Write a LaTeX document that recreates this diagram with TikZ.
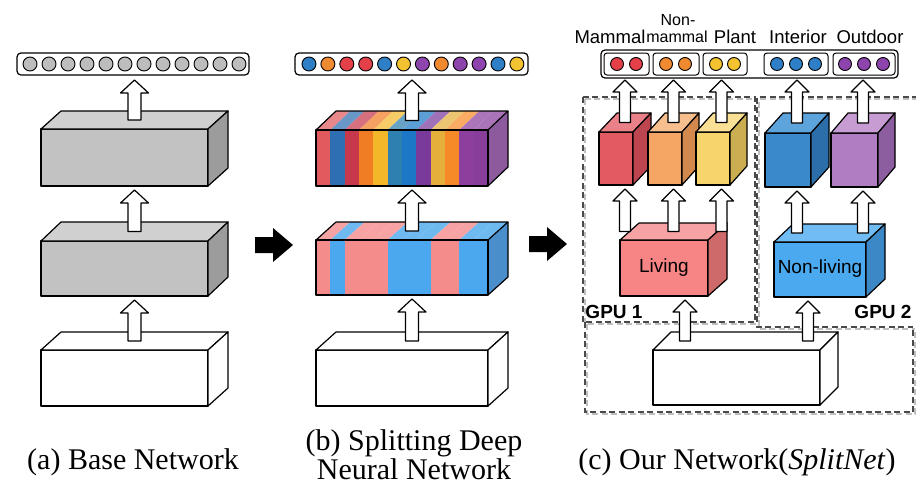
\documentclass[tikz,border=0pt]{standalone}
\usepackage{fontspec}
\setmainfont{Liberation Serif}
\newfontfamily\lsans{Liberation Sans}
\usetikzlibrary{calc}

% face colours of the blocks: F = front, T = top, S = side
\definecolor{grayF}{HTML}{C2C2C2}\definecolor{grayT}{HTML}{D0D0D0}\definecolor{grayS}{HTML}{9C9C9C}
\definecolor{whiteF}{HTML}{FFFFFF}\definecolor{whiteT}{HTML}{FFFFFF}\definecolor{whiteS}{HTML}{FFFFFF}
\definecolor{redF}{HTML}{E35B62}\definecolor{redT}{HTML}{EA8088}\definecolor{redS}{HTML}{BC4550}
\definecolor{orF}{HTML}{F5A664}\definecolor{orT}{HTML}{F8BF8E}\definecolor{orS}{HTML}{D3884D}
\definecolor{yeF}{HTML}{F8D46C}\definecolor{yeT}{HTML}{FAE094}\definecolor{yeS}{HTML}{CCAE52}
\definecolor{blF}{HTML}{3A8ACB}\definecolor{blT}{HTML}{5DA3DC}\definecolor{blS}{HTML}{2C6FA8}
\definecolor{puF}{HTML}{B07CC2}\definecolor{puT}{HTML}{C69CD3}\definecolor{puS}{HTML}{8C5E9F}
\definecolor{livF}{HTML}{F78585}\definecolor{livT}{HTML}{F8A3A3}\definecolor{livS}{HTML}{CF6A6A}
\definecolor{nlF}{HTML}{4BA9F0}\definecolor{nlT}{HTML}{72BCF4}\definecolor{nlS}{HTML}{3C87C6}
% output unit colours
\definecolor{cR}{HTML}{E3404A}\definecolor{cO}{HTML}{F08A30}\definecolor{cY}{HTML}{F2C230}
\definecolor{cB}{HTML}{2F7FC6}\definecolor{cP}{HTML}{8E44AD}\definecolor{cG}{HTML}{BDBDBD}
% stripes of the split layers
\definecolor{sRe}{HTML}{E05A5E}\definecolor{sDb}{HTML}{2E6EB2}\definecolor{sCr}{HTML}{C7384C}
\definecolor{sOr}{HTML}{F07C24}\definecolor{sYe}{HTML}{F4B729}\definecolor{sTe}{HTML}{2D80B0}
\definecolor{sBl}{HTML}{1C78C6}\definecolor{sPu}{HTML}{7A3A9C}\definecolor{sGo}{HTML}{E5AF3C}
\definecolor{sOt}{HTML}{F78A28}\definecolor{sPv}{HTML}{8D3F9E}\definecolor{sPw}{HTML}{8A3E9C}
\definecolor{sSide}{HTML}{8E5A9E}
\definecolor{pk}{HTML}{F58C8C}\definecolor{bu}{HTML}{4BA8EE}\definecolor{buSide}{HTML}{4A8FCC}
\definecolor{dashc}{HTML}{4A4A4A}

% cuboid: name, x1, y1, x2, y2 (front face), depth dx, dy, colour prefix
\newcommand\cuboid[8]{%
  \filldraw[boxline, fill=#8F] (#2,#3) rectangle (#4,#5);
  \filldraw[boxline, fill=#8T] (#2,#3) -- (#2+#6,#3-#7) -- (#4+#6,#3-#7) -- (#4,#3) -- cycle;
  \filldraw[boxline, fill=#8S] (#4,#3) -- (#4+#6,#3-#7) -- (#4+#6,#5-#7) -- (#4,#5) -- cycle;
  \coordinate (#1-top) at ({(#2+#4+#6)/2},{#3-#7/2});
  \coordinate (#1-bot) at ({(#2+#4+#6)/2},{#5+4});
}
% outline of a cuboid whose faces were filled separately
\newcommand\cuboidframe[7]{%
  \draw[boxline] (#2,#3) rectangle (#4,#5);
  \draw[boxline] (#2,#3) -- (#2+#6,#3-#7) -- (#4+#6,#3-#7) -- (#4,#3);
  \draw[boxline] (#4+#6,#3-#7) -- (#4+#6,#5-#7) -- (#4,#5);
  \coordinate (#1-top) at ({(#2+#4+#6)/2},{#3-#7/2});
  \coordinate (#1-bot) at ({(#2+#4+#6)/2},{#5+4});
}
% hollow upward block arrow: from, to, half shaft, half head, head length
\newcommand\blockup[5]{%
  \filldraw[boxline, fill=white] let \p1=(#1), \p2=(#2) in
    (\x1-#3pt,\y1) -- (\x1-#3pt,\y2-#5pt) -- (\x1-#4pt,\y2-#5pt) -- (\x1,\y2)
    -- (\x1+#4pt,\y2-#5pt) -- (\x1+#3pt,\y2-#5pt) -- (\x1+#3pt,\y1) -- cycle;
}
% solid rightward block arrow between panels
\newcommand\blockright[2]{%
  \fill[black] let \p1=(#1), \p2=(#2) in
    (\x1,\y1+8pt) -- (\x2-20pt,\y1+8pt) -- (\x2-20pt,\y1+17pt) -- (\x2,\y1)
    -- (\x2-20pt,\y1-17pt) -- (\x2-20pt,\y1-8pt) -- (\x1,\y1-8pt) -- cycle;
}

\begin{document}
\begin{tikzpicture}[x=1pt,y=-1pt,
  boxline/.style={draw=black,line width=1.2pt,line join=round},
  unit/.style={draw=black,line width=0.9pt},
  outbar/.style={draw=black,line width=1.2pt,rounded corners=4pt,fill=white},
  grp/.style={draw=black,line width=1pt,rounded corners=3pt,fill=white},
  lab/.style={inner sep=0pt,font=\lsans\fontsize{18.5}{20}\selectfont},
  labs/.style={inner sep=0pt,font=\lsans\fontsize{16}{17}\selectfont},
  gpu/.style={inner sep=0pt,font=\lsans\bfseries\fontsize{19}{20}\selectfont},
  captxt/.style={inner sep=0pt,font=\fontsize{30}{30}\selectfont,align=center},
  gpubox/.style={draw=dashc,line width=1.4pt,dash pattern=on 6pt off 3.5pt},
  gpushade/.style={draw=black!25,line width=1.2pt,dash pattern=on 6pt off 3.5pt}]
\useasboundingbox (0,0) rectangle (916,488);

%% ---------------- (a) Base Network ----------------
\draw[outbar] (17,53) rectangle (249,75);
\foreach \i in {0,...,11} {\filldraw[unit, fill=cG] ({30+19*\i},64) circle (7);}
\coordinate (barA-in) at (134.5,80);
\cuboid{aT}{41}{129}{208}{186}{20}{18}{gray}
\cuboid{aM}{41}{241}{208}{296}{20}{19}{gray}
\cuboid{aB}{41}{350}{208}{406}{20}{18}{white}
\blockup{aB-top}{aM-bot}{6.5}{14}{13}
\blockup{aM-top}{aT-bot}{6.5}{14}{13}
\blockup{aT-top}{barA-in}{6.5}{14}{13}
\node[captxt] (capA) at (133,462) {(a) Base Network};

%% ---------------- (b) Splitting Deep Neural Network ----------------
\draw[outbar] (295,53) rectangle (528,75);
\foreach \c [count=\i from 0] in {cB,cO,cR,cR,cB,cY,cP,cO,cP,cP,cB,cY}
  {\filldraw[unit, fill=\c] ({309+18.9*\i},64) circle (7);}
\coordinate (barB-in) at (412,80);
% upper split layer, twelve coloured stripes
\foreach \c [count=\i from 0] in {sRe,sDb,sCr,sOr,sYe,sTe,sBl,sPu,sGo,sOt,sPv,sPw}{
  \fill[\c] ({316+14.333*\i},130) rectangle ({316+14.333*(\i+1)},186);
  \fill[\c!72!white] ({316+14.333*\i},130) -- ({336+14.333*\i},111)
      -- ({336+14.333*(\i+1)},111) -- ({316+14.333*(\i+1)},130) -- cycle;
}
\fill[sSide] (488,130) -- (508,111) -- (508,167) -- (488,186) -- cycle;
\cuboidframe{bT}{316}{130}{488}{186}{20}{19}
% lower split layer, two groups of stripes
\foreach \c [count=\i from 0] in {pk,bu,pk,pk,pk,bu,bu,bu,pk,pk,bu,bu}{
  \fill[\c] ({316+14.333*\i},240) rectangle ({316+14.333*(\i+1)},295);
  \fill[\c!80!white] ({316+14.333*\i},240) -- ({336+14.333*\i},222)
      -- ({336+14.333*(\i+1)},222) -- ({316+14.333*(\i+1)},240) -- cycle;
}
\fill[buSide] (488,240) -- (508,222) -- (508,277) -- (488,295) -- cycle;
\cuboidframe{bM}{316}{240}{488}{295}{20}{18}
\cuboid{bB}{316}{350}{488}{406}{20}{18}{white}
\blockup{bB-top}{bM-bot}{6.5}{14}{13}
\blockup{bM-top}{bT-bot}{6.5}{14}{13}
\blockup{bT-top}{barB-in}{6.5}{14}{13}
\node[captxt] (capB) at (414,455) {(b) Splitting Deep\\[-1pt]Neural Network};

%% panel transitions
\coordinate (t1a) at (255,245); \coordinate (t1b) at (293,245);
\coordinate (t2a) at (529,244); \coordinate (t2b) at (567,244);
\blockright{t1a}{t1b}
\blockright{t2a}{t2b}

%% ---------------- (c) SplitNet ----------------
% GPU partitions
\draw[gpushade] (585,99) rectangle (757,324);
\draw[gpushade] (918,99) -- (759,99) -- (759,329) -- (915,329);
\draw[gpushade] (587,324) -- (587,414) -- (915,414) -- (915,329);
\draw[gpubox] (583,97) rectangle (755,322);
\draw[gpubox] (918,97) -- (757,97) -- (757,327) -- (913,327);
\draw[gpubox] (585,322) -- (585,412) -- (913,412) -- (913,327);
\node[gpu] (gpu1) at (614,312) {GPU 1};
\node[gpu] (gpu2) at (883,312) {GPU 2};

% grouped output layer
\draw[outbar] (601,50) rectangle (898,78);
\draw[grp] (604,53) rectangle (649,75);
\draw[grp] (653,53) rectangle (699,75);
\draw[grp] (703,53) rectangle (747,75);
\draw[grp] (764,53) rectangle (828,75);
\draw[grp] (833,53) rectangle (895,75);
\foreach \x in {617,636} {\filldraw[unit, fill=cR] (\x,64) circle (6.5);}
\foreach \x in {666,685} {\filldraw[unit, fill=cO] (\x,64) circle (6.5);}
\foreach \x in {716,734} {\filldraw[unit, fill=cY] (\x,64) circle (6.5);}
\foreach \x in {777,796,815} {\filldraw[unit, fill=cB] (\x,64) circle (6.5);}
\foreach \x in {845,864,883} {\filldraw[unit, fill=cP] (\x,64) circle (6.5);}
\coordinate (barC-in) at (750,80);

\node[lab]  (lMam)   at (610,37) {Mammal};
\node[labs] (lNon)   at (678,20) {Non-};
\node[labs] (lNmam)  at (677,37) {mammal};
\node[lab]  (lPlant) at (735,37) {Plant};
\node[lab]  (lInt)   at (798,37) {Interior};
\node[lab]  (lOut)   at (870,37) {Outdoor};

% class-specific layers
\cuboid{cRed}{599}{132}{633}{185}{18}{19}{red}
\cuboid{cOr}{648}{132}{682}{185}{17}{19}{or}
\cuboid{cYe}{696}{132}{730}{185}{17}{19}{ye}
\cuboid{cBl}{765}{133}{811}{187}{18}{20}{bl}
\cuboid{cPu}{831}{133}{878}{187}{17}{20}{pu}

% super-class layers
\cuboid{liv}{620}{240}{708}{296}{19}{17}{liv}
\node[inner sep=0pt,font=\lsans\fontsize{19}{20}\selectfont] (livT) at (664,268) {Living};
\cuboid{nonliv}{774}{242}{866}{297}{19}{18}{nl}
\node[inner sep=0pt,font=\lsans\fontsize{19}{20}\selectfont] (nlT) at (820,269) {Non-living};

% arrow end points above and below the class layers
\coordinate (cRed-up) at (cRed-top |- barC-in);
\coordinate (cOr-up)  at (cOr-top |- barC-in);
\coordinate (cYe-up)  at (cYe-top |- barC-in);
\coordinate (cBl-up)  at (cBl-top |- barC-in);
\coordinate (cPu-up)  at (cPu-top |- barC-in);
\coordinate (cRed-src) at (cRed-bot |- liv-top);
\coordinate (cOr-src)  at (cOr-bot |- liv-top);
\coordinate (cYe-src)  at (cYe-bot |- liv-top);
\coordinate (cBl-src)  at (cBl-bot |- nonliv-top);
\coordinate (cPu-src)  at (cPu-bot |- nonliv-top);
\blockup{cRed-top}{cRed-up}{5.5}{12}{12}
\blockup{cOr-top}{cOr-up}{5.5}{12}{12}
\blockup{cYe-top}{cYe-up}{5.5}{12}{12}
\blockup{cBl-top}{cBl-up}{5.5}{12}{12}
\blockup{cPu-top}{cPu-up}{5.5}{12}{12}
\blockup{cRed-src}{cRed-bot}{5.5}{12}{12}
\blockup{cOr-src}{cOr-bot}{5.5}{12}{12}
\blockup{cYe-src}{cYe-bot}{5.5}{12}{12}
\blockup{cBl-src}{cBl-bot}{5.5}{12}{12}
\blockup{cPu-src}{cPu-bot}{5.5}{12}{12}

% shared lower layer
\cuboid{cW}{653}{350}{820}{405}{18}{18}{white}
\coordinate (cw1) at (685,341);
\coordinate (cw2) at (808,341);
\coordinate (cw1-up) at (cw1 |- liv-bot);
\coordinate (cw2-up) at (cw2 |- nonliv-bot);
\blockup{cw1}{cw1-up}{5.5}{12}{12}
\blockup{cw2}{cw2-up}{5.5}{12}{12}

\node[captxt] (capC) at (737,462) {(c) Our Network(\textit{SplitNet})};
\end{tikzpicture}
\end{document}
